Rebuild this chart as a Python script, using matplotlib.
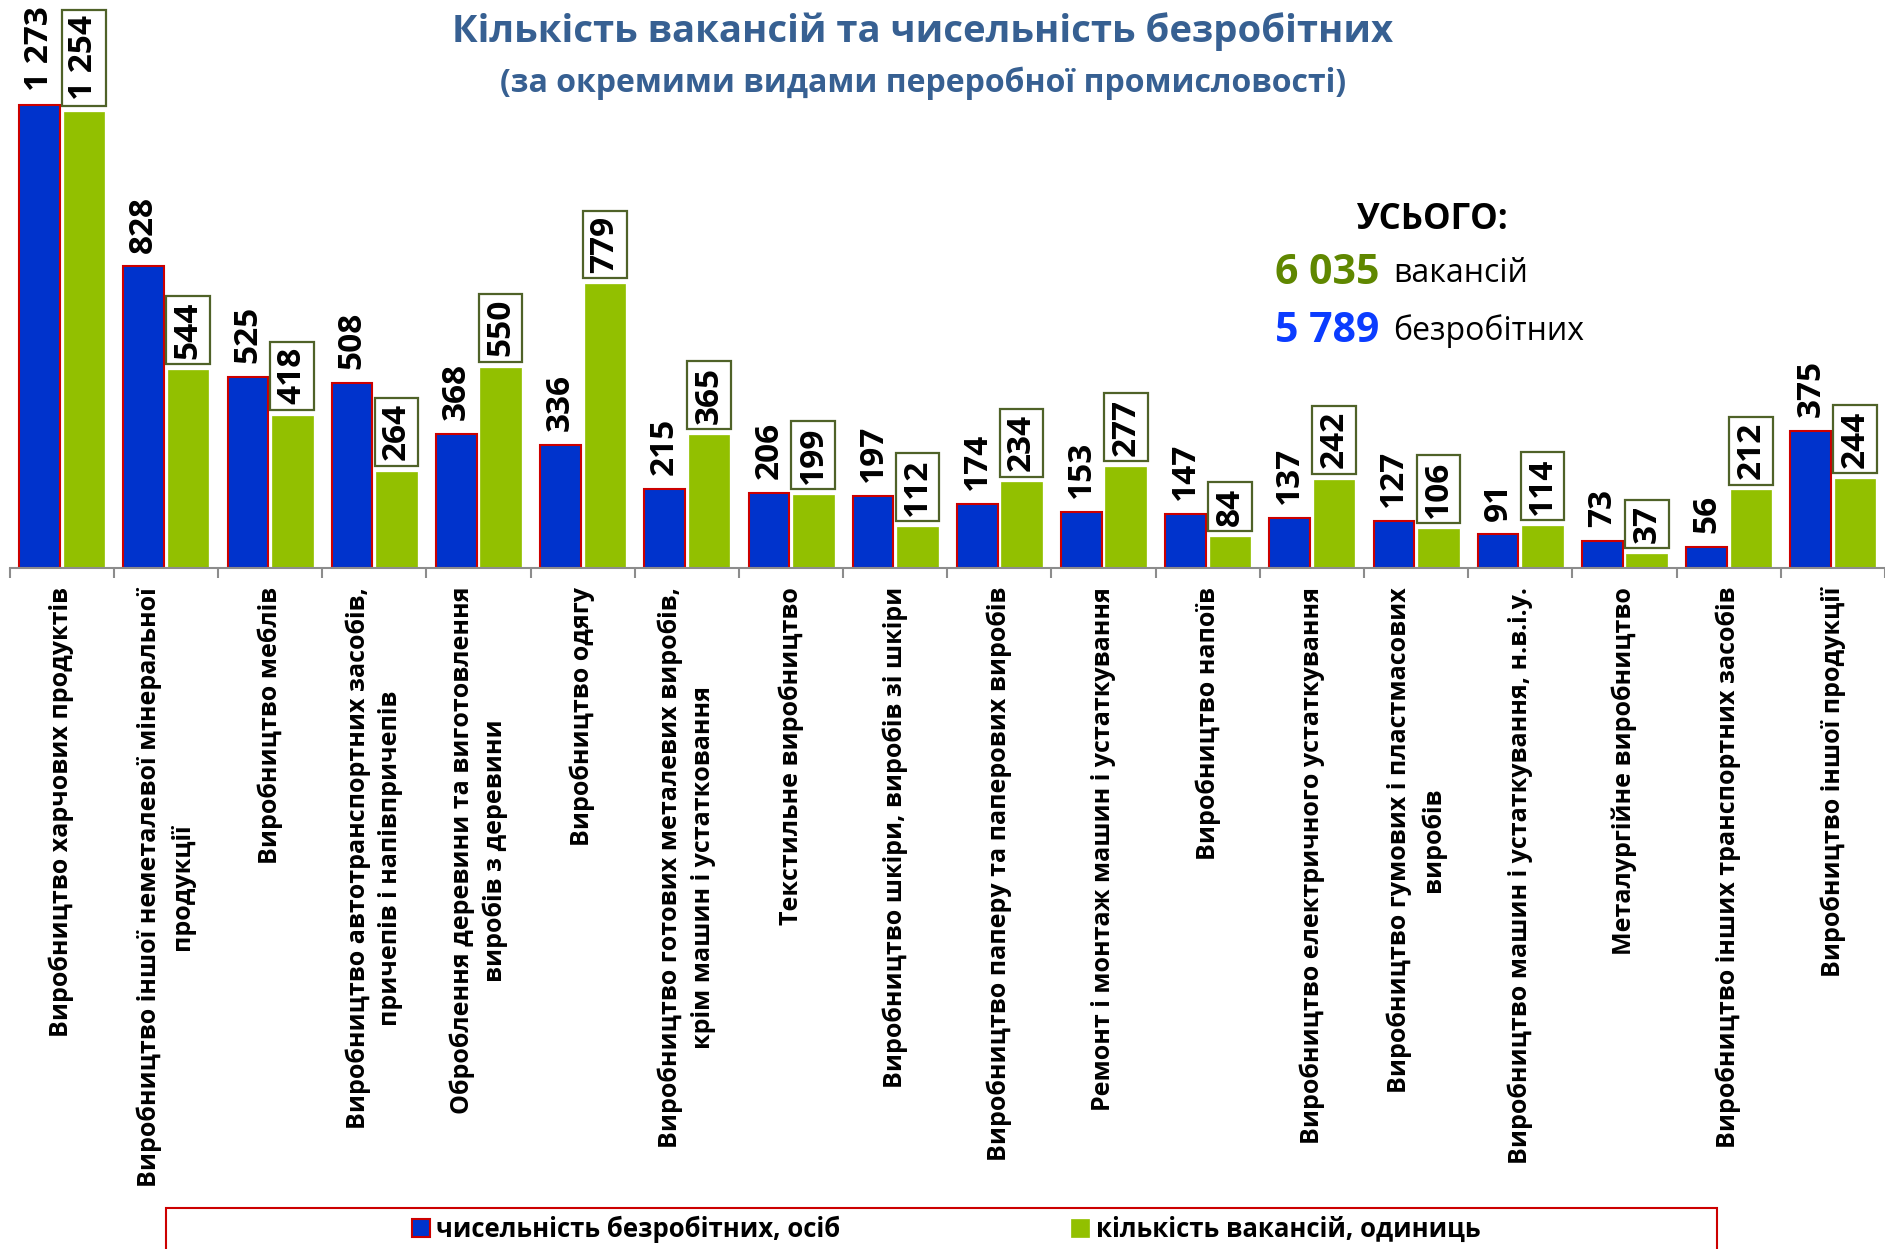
import numpy as np
import matplotlib
matplotlib.use("Agg")
import matplotlib.pyplot as plt
from matplotlib.patches import Rectangle

plt.rcParams['font.family'] = ['Open Sans', 'DejaVu Sans']

# ---------------------------------------------------------------------------
# Data
# ---------------------------------------------------------------------------
categories = [
    "Виробництво харчових продуктів",
    "Виробництво іншої неметалевої мінеральної\nпродукції",
    "Виробництво меблів",
    "Виробництво автотранспортних засобів,\nпричепів і напівпричепів",
    "Оброблення деревини та виготовлення\nвиробів з деревини",
    "Виробництво одягу",
    "Виробництво готових металевих виробів,\nкрім машин і устатковання",
    "Текстильне виробництво",
    "Виробництво шкіри, виробів зі шкіри",
    "Виробництво паперу та паперових виробів",
    "Ремонт і монтаж машин і устаткування",
    "Виробництво напоїв",
    "Виробництво електричного устаткування",
    "Виробництво гумових і пластмасових\nвиробів",
    "Виробництво машин і устаткування, н.в.і.у.",
    "Металургійне виробництво",
    "Виробництво інших транспортних засобів",
    "Виробництво іншої продукції",
]
unemployed = [1273, 828, 525, 508, 368, 336, 215, 206, 197, 174, 153, 147, 137, 127, 91, 73, 56, 375]
vacancies = [1254, 544, 418, 264, 550, 779, 365, 199, 112, 234, 277, 84, 242, 106, 114, 37, 212, 244]

label_unemployed = "чисельність безробітних, осіб"
label_vacancies = "кількість вакансій, одиниць"
title = "Кількість вакансій та чисельність безробітних"
subtitle = "(за окремими видами переробної промисловості)"


def fmt(v):
    return f"{v:,}".replace(",", " ")


total_vac = sum(vacancies)
total_unemp = sum(unemployed)

# ---------------------------------------------------------------------------
# Colours
# ---------------------------------------------------------------------------
BLUE = '#0033cc'
GREEN = '#92c000'
RED = '#cc0000'
BOX_EDGE = '#4f6228'
TITLE_C = '#376092'

W, H = 1885, 1249
fig = plt.figure(figsize=(W / 100, H / 100), dpi=100)

# axes: baseline at y=567 px, group pitch ~104.6 px
ax = fig.add_axes([9.6 / W, 1 - 567.5 / H, 1 - 9.6 / W, 567.5 / H])
x = np.arange(len(categories))
bw = 0.39
off = 0.213

b1 = ax.bar(x - off, unemployed, bw, color=BLUE, edgecolor=RED, linewidth=1.5,
            label=label_unemployed)
b2 = ax.bar(x + off, vacancies, bw, color=GREEN, edgecolor=GREEN, linewidth=0.5,
            label=label_vacancies)

ax.set_xlim(-0.5, -0.5 + 18 * (W - 9.6) / 1883)
ax.set_ylim(0, 567.5 / 0.3636)

for xi, v in zip(x - off, unemployed):
    ax.annotate(fmt(v), (xi, v), xytext=(0, 10), textcoords='offset points',
                rotation=90, ha='center', va='bottom', fontsize=24,
                fontweight='bold', color='black')
for xi, v in zip(x + off, vacancies):
    ax.annotate(fmt(v), (xi, v), xytext=(0, 8), textcoords='offset points',
                rotation=90, ha='center', va='bottom', fontsize=24,
                fontweight='bold', color='black',
                bbox=dict(boxstyle='square,pad=0.16', fc='white', ec=BOX_EDGE, lw=1.6))

for s in ['top', 'left', 'right']:
    ax.spines[s].set_visible(False)
ax.spines['bottom'].set_color('#8c8c8c')
ax.spines['bottom'].set_linewidth(1.5)
ax.set_yticks([])

ax.set_xticks(x)
ax.set_xticklabels(categories, rotation=90, fontsize=18, fontweight='bold',
                   linespacing=1.4, multialignment='center')
ax.set_xticks(np.arange(-0.5, 18, 1), minor=True)
ax.tick_params(axis='x', which='major', length=0, pad=14)
ax.tick_params(axis='x', which='minor', length=7, width=1.5, color='#8c8c8c')

# titles
fig.text(923 / W, 1 - 32 / H, title, ha='center', va='center', fontsize=27.5,
         fontweight='bold', color=TITLE_C)
fig.text(923 / W, 1 - 83 / H, subtitle, ha='center', va='center', fontsize=23,
         fontweight='bold', color=TITLE_C)

# totals
fig.text(1432 / W, 1 - 220 / H, "УСЬОГО:", ha='center', va='center', fontsize=25,
         fontweight='bold', color='black')
fig.text(1275 / W, 1 - 274 / H, fmt(total_vac), ha='left', va='center',
         fontsize=29.5, fontweight='bold', color='#5f8700')
fig.text(1393 / W, 1 - 274 / H, "вакансій", ha='left', va='center', fontsize=23,
         color='black')
fig.text(1275 / W, 1 - 331 / H, fmt(total_unemp), ha='left', va='center',
         fontsize=29.5, fontweight='bold', color='#0b3cff')
fig.text(1393 / W, 1 - 331 / H, "безробітних", ha='left', va='center', fontsize=23,
         color='black')

# legend
fig.legend(handles=[b1, b2], loc='center', bbox_to_anchor=(946 / W, 1 - 1229 / H),
           ncol=2, frameon=False, prop=dict(size=18.5, weight='bold'),
           handlelength=0.7, handleheight=0.7, handletextpad=0.25,
           columnspacing=9.0)
fig.add_artist(Rectangle((166 / W, -0.02), (1717 - 166) / W, 0.02 + (H - 1208) / H,
                         transform=fig.transFigure, fill=False, ec=RED, lw=1.5))

fig.savefig('out.png', dpi=100)
